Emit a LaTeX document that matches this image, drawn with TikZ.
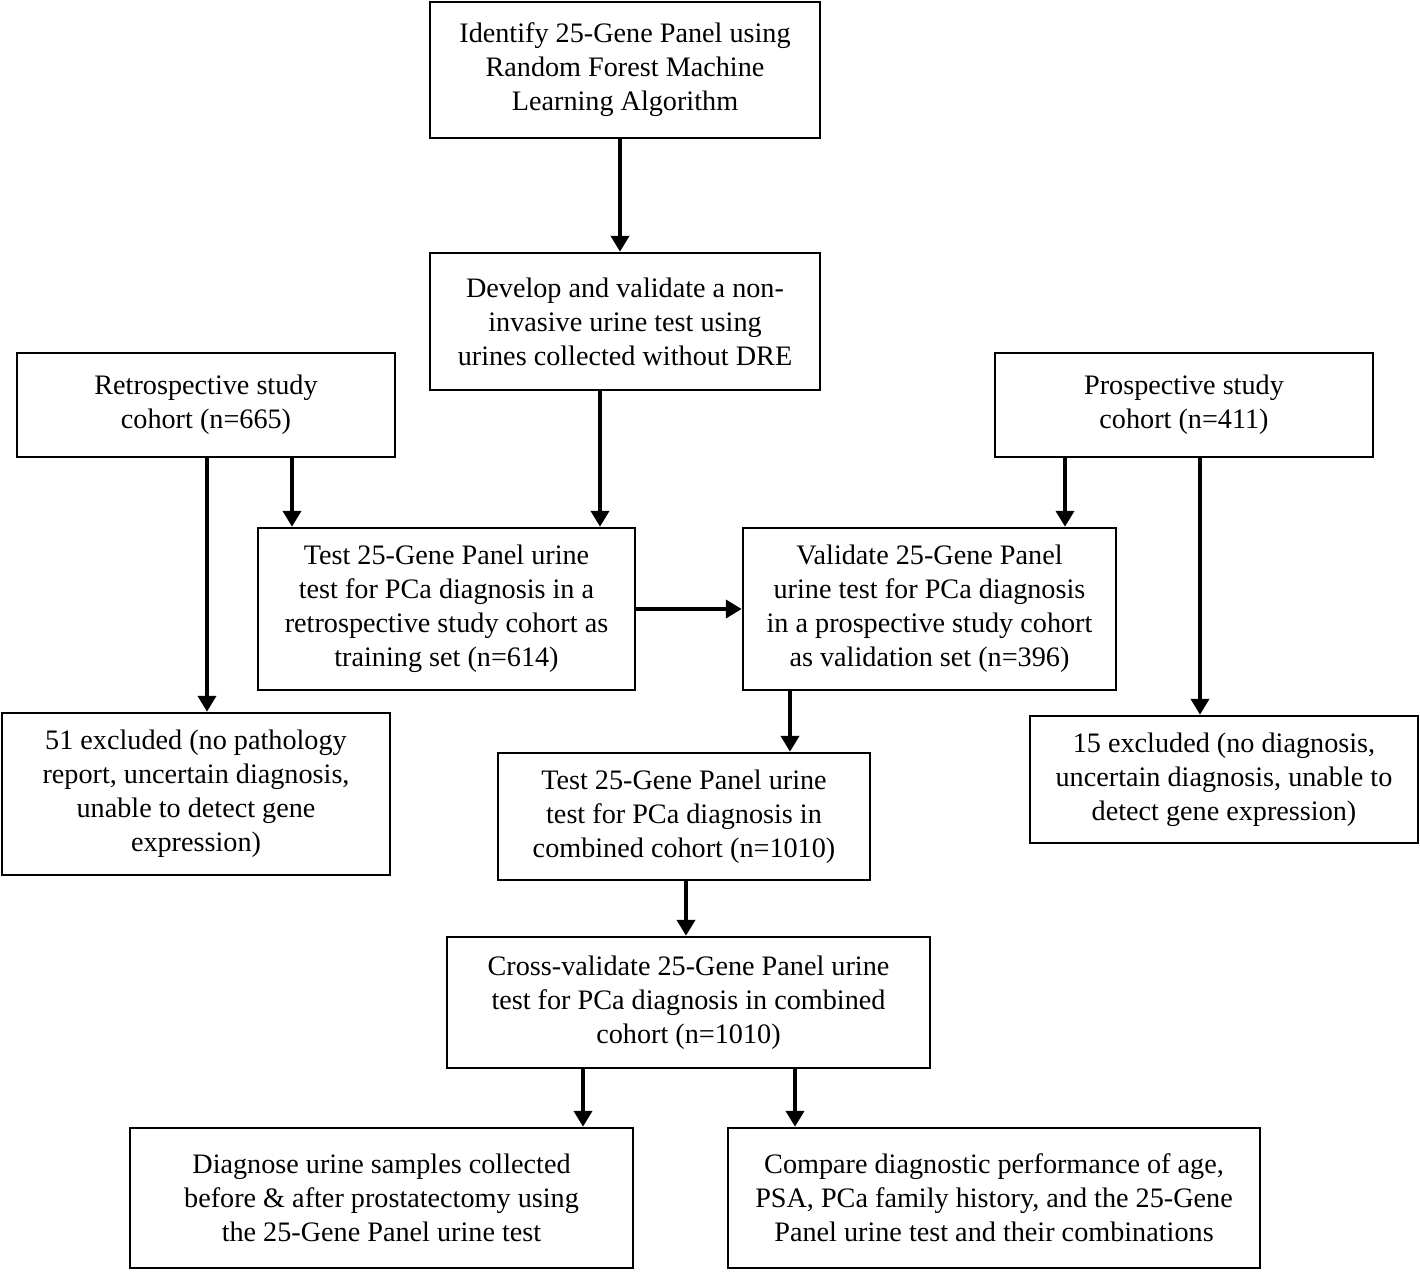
\documentclass[tikz,border=0pt]{standalone}
\usepackage{fontspec}
\setmainfont{Liberation Serif}
\usetikzlibrary{arrows.meta}
\newcommand{\topstrutx}{\rule{0pt}{12.6pt}}
\tikzset{
  box/.style={draw=black, line width=1.25pt, align=center, inner sep=0pt,
    font=\fontsize{14.1pt}{17pt}\selectfont, execute at begin node=\topstrutx},
  arr/.style={line width=2pt, -{Triangle[length=8pt,width=9pt]}}
}
\begin{document}
\begin{tikzpicture}[x=0.5pt,y=-0.5pt]
\useasboundingbox (0,0) rectangle (1420,1271);
\node[box, minimum width=195pt, minimum height=68pt] (top) at (625,70)
  {Identify 25-Gene Panel using\\Random Forest Machine\\Learning Algorithm};
\node[box, minimum width=195pt, minimum height=68.5pt] (dev) at (625,321.5)
  {Develop and validate a non-\\invasive urine test using\\urines collected without DRE};
\node[box, minimum width=189pt, minimum height=52pt] (retro) at (206,405)
  {Retrospective study\\cohort (n=665)};
\node[box, minimum width=189pt, minimum height=52pt] (prosp) at (1184,405)
  {Prospective study\\cohort (n=411)};
\node[box, minimum width=188.5pt, minimum height=81pt] (train) at (446.5,609)
  {Test 25-Gene Panel urine\\test for PCa diagnosis in a\\retrospective study cohort as\\training set (n=614)};
\node[box, minimum width=186.5pt, minimum height=81pt] (valid) at (929.5,609)
  {Validate 25-Gene Panel\\urine test for PCa diagnosis\\in a prospective study cohort\\as validation set (n=396)};
\node[box, minimum width=194pt, minimum height=81pt] (exa) at (196,794)
  {51 excluded (no pathology\\report, uncertain diagnosis,\\unable to detect gene\\expression)};
\node[box, minimum width=194pt, minimum height=63.5pt] (exb) at (1224,779.5)
  {15 excluded (no diagnosis,\\uncertain diagnosis, unable to\\detect gene expression)};
\node[box, minimum width=186pt, minimum height=63.5pt] (comb) at (684,816.5)
  {Test 25-Gene Panel urine\\test for PCa diagnosis in\\combined cohort (n=1010)};
\node[box, minimum width=241.5pt, minimum height=65.5pt] (cross) at (688.5,1002.5)
  {Cross-validate 25-Gene Panel urine\\test for PCa diagnosis in combined\\cohort (n=1010)};
\node[box, minimum width=251.5pt, minimum height=70pt] (diag) at (381.5,1198)
  {Diagnose urine samples collected\\before \& after prostatectomy using\\the 25-Gene Panel urine test};
\node[box, minimum width=266pt, minimum height=70pt] (comp) at (994,1198)
  {Compare diagnostic performance of age,\\PSA, PCa family history, and the 25-Gene\\Panel urine test and their combinations};
\draw[arr] (620,0 |- top.south) -- (620,0 |- dev.north);
\draw[arr] (600,0 |- dev.south) -- (600,0 |- train.north);
\draw[arr] (292,0 |- retro.south) -- (292,0 |- train.north);
\draw[arr] (207,0 |- retro.south) -- (207,0 |- exa.north);
\draw[arr] (1065,0 |- prosp.south) -- (1065,0 |- valid.north);
\draw[arr] (1200,0 |- prosp.south) -- (1200,0 |- exb.north);
\draw[arr] (train.east) -- (valid.west);
\draw[arr] (790,0 |- valid.south) -- (790,0 |- comb.north);
\draw[arr] (686,0 |- comb.south) -- (686,0 |- cross.north);
\draw[arr] (583,0 |- cross.south) -- (583,0 |- diag.north);
\draw[arr] (795,0 |- cross.south) -- (795,0 |- comp.north);
\end{tikzpicture}
\end{document}
